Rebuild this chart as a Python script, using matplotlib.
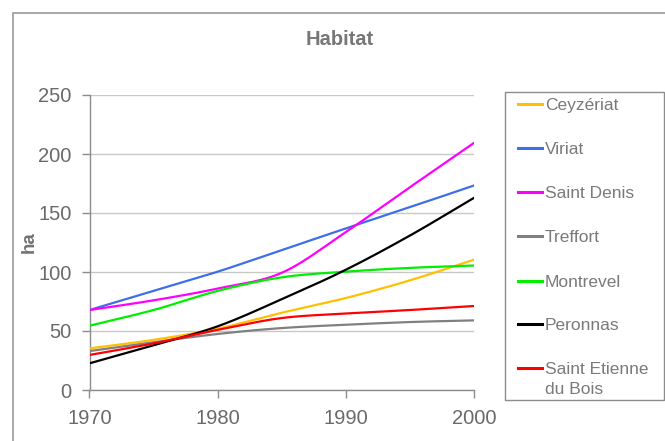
import numpy as np
import matplotlib
matplotlib.use("Agg")
import matplotlib.pyplot as plt
from matplotlib.lines import Line2D
from matplotlib.patches import Rectangle

plt.rcParams['font.family'] = ['Liberation Sans', 'DejaVu Sans']

# Surface bâtie (ha), valeurs tous les 5 ans
years = [1970, 1975, 1980, 1985, 1990, 1995, 2000]

ceyzeriat = [35.3, 42.5, 52.0, 65.5, 78.0, 93.0, 110.5]
viriat = [67.8, 84.0, 100.3, 118.6, 137.0, 155.0, 173.4]
saint_denis = [67.8, 76.0, 86.0, 99.4, 134.0, 172.0, 209.6]
treffort = [33.0, 40.5, 47.5, 52.5, 55.3, 57.6, 59.0]
montrevel = [54.5, 67.8, 84.0, 95.5, 100.3, 103.5, 105.5]
peronnas = [22.6, 38.0, 54.0, 77.0, 102.0, 131.0, 163.0]
st_etienne = [29.7, 39.5, 51.0, 61.0, 64.8, 67.8, 71.2]

names = ["Ceyzériat", "Viriat", "Saint Denis", "Treffort",
         "Montrevel", "Peronnas", "Saint Etienne\ndu Bois"]
series = [ceyzeriat, viriat, saint_denis, treffort,
          montrevel, peronnas, st_etienne]
colors = ["#FFC000", "#3F6FE8", "#FF00FF", "#808080",
          "#00EE00", "#000000", "#FF0000"]

y_ticks = [0, 50, 100, 150, 200, 250]
x_ticks = [1970, 1980, 1990, 2000]


def smooth(xs, ys, n=24):
    # lissage type Excel (Catmull-Rom) entre les points mesurés
    xs = np.asarray(xs, float)
    ys = np.asarray(ys, float)
    px = np.concatenate([[2 * xs[0] - xs[1]], xs, [2 * xs[-1] - xs[-2]]])
    py = np.concatenate([[2 * ys[0] - ys[1]], ys, [2 * ys[-1] - ys[-2]]])
    out_x, out_y = [], []
    t = np.linspace(0, 1, n, endpoint=False)
    for i in range(1, len(px) - 2):
        for p, out in ((px, out_x), (py, out_y)):
            p0, p1, p2, p3 = p[i - 1], p[i], p[i + 1], p[i + 2]
            out.extend(0.5 * ((2 * p1) + (-p0 + p2) * t
                              + (2 * p0 - 5 * p1 + 4 * p2 - p3) * t ** 2
                              + (-p0 + 3 * p1 - 3 * p2 + p3) * t ** 3))
    out_x.append(xs[-1])
    out_y.append(ys[-1])
    return out_x, out_y


W, H = 665, 441
fig = plt.figure(figsize=(W / 100, H / 100), dpi=100)
fig.patch.set_facecolor("white")

# cadre extérieur (coupé à droite et en bas)
fig.add_artist(Rectangle((12.5 / W, -0.1), 1, 1.1 - 12.5 / H, transform=fig.transFigure,
                         fill=False, edgecolor="#9a9a9a", linewidth=1.2))

ax = fig.add_axes([89.5 / W, 1 - 390 / H, (474.3 - 89.5) / W, (390 - 95) / H])

for ys, c in zip(series, colors):
    sx, sy = smooth(years, ys)
    ax.plot(sx, sy, color=c, linewidth=1.6, solid_capstyle='butt', zorder=3)

ax.set_xlim(1970, 2000)
ax.set_ylim(0, 250)
ax.set_xticks(x_ticks)
ax.set_yticks(y_ticks)
ax.grid(axis='y', color="#c8c8c8", linewidth=1.0)
ax.set_axisbelow(True)
for s in ("top", "right"):
    ax.spines[s].set_visible(False)
for s in ("left", "bottom"):
    ax.spines[s].set_color("#8c8c8c")
    ax.spines[s].set_linewidth(1.0)
ax.tick_params(axis='both', colors="#8c8c8c", labelcolor="#6a6a6a",
               labelsize=14.5, length=6, width=1.0)
ax.tick_params(axis='y', pad=7)
ax.tick_params(axis='x', pad=8)

fig.text(339.7 / W, 1 - 45 / H, "Habitat", ha='center', va='baseline',
         fontsize=14.5, fontweight='bold', color="#777777")
fig.text(29.7 / W, 1 - 241.7 / H, "ha", ha='center', va='center', rotation=90,
         fontsize=13.5, fontweight='bold', color="#737373")

# légende
fig.add_artist(Rectangle((505.5 / W, 1 - 400 / H), (664 - 505.5) / W, (400 - 91.7) / H,
                         transform=fig.transFigure, fill=False,
                         edgecolor="#8c8c8c", linewidth=1.0))
rows = [104, 148, 192, 236, 281, 324, 368]
for name, c, ry in zip(names, colors, rows):
    fig.add_artist(Line2D([518 / W, 542 / W], [1 - ry / H, 1 - ry / H],
                          transform=fig.transFigure, color=c, linewidth=2.2))
    first, *rest = name.split("\n")
    fig.text(545 / W, 1 - ry / H, first, ha='left', va='center_baseline',
             fontsize=12.5, color="#7a7a7a")
    for k, line in enumerate(rest, 1):
        fig.text(545 / W, 1 - (ry + 20 * k) / H, line, ha='left',
                 va='center_baseline', fontsize=12.5, color="#7a7a7a")

fig.savefig("out.png", dpi=100)
